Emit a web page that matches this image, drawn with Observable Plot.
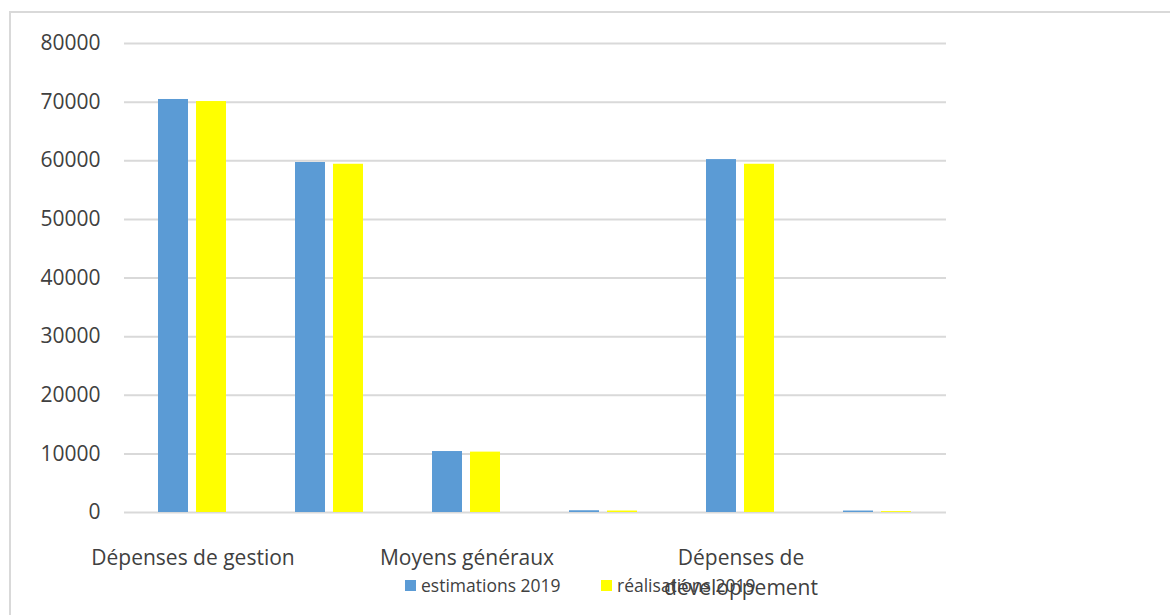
<!DOCTYPE html>
<html>
<head>
<meta charset="utf-8">
<script src="https://cdn.jsdelivr.net/npm/d3@7"></script>
<script src="https://cdn.jsdelivr.net/npm/@observablehq/plot@0.6"></script>
<style>
  html, body { margin: 0; padding: 0; background: #fff; overflow: hidden; }
  #wrap { position: relative; width: 1170px; height: 615px; overflow: hidden; font-family: "Open Sans", sans-serif; }
  #border { position: absolute; left: 9px; top: 11px; width: 2000px; height: 2000px; border: 2px solid #d9d9d9; box-sizing: border-box; }
  #chart { position: absolute; left: 0; top: 0; }
  #legend { position: absolute; top: 572px; left: 0; width: 1170px; height: 26px; font-size: 17.5px; color: #404040; }
  .item { position: absolute; top: 0; display: flex; align-items: center; height: 26px; }
  .sw { width: 11px; height: 11px; margin-right: 5px; }
</style>
</head>
<body>
<div id="wrap">
  <div id="border"></div>
  <div id="chart"></div>
  <div id="legend"></div>
</div>
<script>
// Category labels (Excel shows only every other label)
const categoryLabels = ["Dépenses de gestion", "", "Moyens généraux", "", "Dépenses de\ndéveloppement", ""];
const seriesNames = ["estimations 2019", "réalisations 2019"];
const seriesColors = ["#5b9bd5", "#ffff00"];
const estimations2019 = [70450, 59700, 10400, 300, 60200, 250];
const realisations2019 = [70100, 59400, 10300, 250, 59400, 150];
const yTicks = [0, 10000, 20000, 30000, 40000, 50000, 60000, 70000, 80000];

const indices = categoryLabels.map((_, i) => i);
const data = [];
indices.forEach(i => {
  data.push({cat: i, series: seriesNames[0], value: estimations2019[i]});
  data.push({cat: i, series: seriesNames[1], value: realisations2019[i]});
});

const chart = Plot.plot({
  width: 1170,
  height: 615,
  marginLeft: 123,
  marginRight: 224,
  marginTop: 43,
  marginBottom: 103,
  style: {fontFamily: "'Open Sans', sans-serif", color: "#404040", background: "transparent", overflow: "visible"},
  fx: {domain: indices, padding: 0, label: null},
  x: {domain: seriesNames, paddingInner: 0.205, paddingOuter: 0.859, axis: null},
  y: {domain: [0, 80000], label: null},
  color: {domain: seriesNames, range: seriesColors},
  marks: [
    Plot.gridY(yTicks, {stroke: "#d9d9d9", strokeOpacity: 1, strokeWidth: 2}),
    Plot.barY(data, {fx: "cat", x: "series", y: "value", fill: "series"}),
    Plot.axisY(yTicks, {tickSize: 0, tickPadding: 24, tickFormat: d3.format("d"), fontSize: 21, fill: "#404040", label: null}),
    Plot.axisFx({anchor: "bottom", tickSize: 0, tickPadding: 31, tickFormat: i => categoryLabels[i], fontSize: 21, lineHeight: 1.43, fill: "#404040", label: null})
  ]
});
document.getElementById("chart").appendChild(chart);

// Legend
const legend = document.getElementById("legend");
const legendX = [405, 601];
seriesNames.forEach((name, i) => {
  const item = document.createElement("div");
  item.className = "item";
  item.style.left = legendX[i] + "px";
  const sw = document.createElement("span");
  sw.className = "sw";
  sw.style.background = seriesColors[i];
  const label = document.createElement("span");
  label.textContent = name;
  item.appendChild(sw);
  item.appendChild(label);
  legend.appendChild(item);
});
</script>
</body>
</html>
